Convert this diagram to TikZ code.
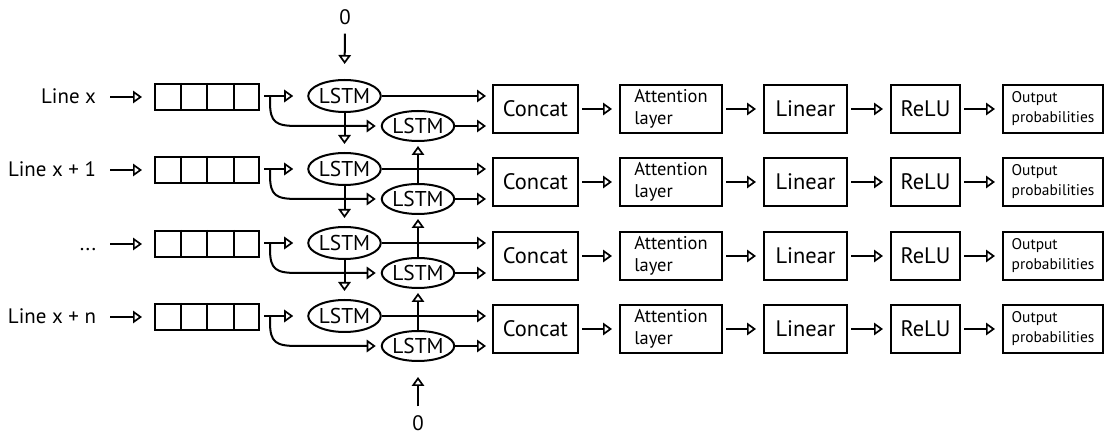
\documentclass[tikz,border=0pt]{standalone}
\usepackage{fontspec}
\setmainfont{PT Sans}
\usetikzlibrary{arrows.meta,shapes.geometric,calc}

\begin{document}
\begin{tikzpicture}[x=1bp,y=-1bp,line width=2bp,
  arr/.style={-{Triangle[open,length=9bp,width=12.5bp,line width=1.7bp]}},
  big/.style={font=\fontsize{22.5}{26}\selectfont},
  lbl/.style={font=\fontsize{21}{24}\selectfont,inner sep=0pt},
  box/.style={draw,rectangle,inner sep=0pt,minimum height=48bp,big},
  lstm/.style={draw,ellipse,inner sep=0pt,minimum width=72bp,font=\fontsize{21.5}{24}\selectfont},
  arraybox/.style={draw,rectangle,inner sep=0pt,minimum width=104bp,minimum height=26bp},
  twoline/.style={box,align=left},
  zero/.style={lbl}
]
\useasboundingbox (0,0) rectangle (1105,434);

\foreach \i/\dy/\lab in {0/0/{Line x},1/73/{Line x + 1},2/147/{...},3/220/{Line x + n}} {
  % input label and its arrow into the sequence buffer
  \node[lbl,anchor=base east] (L\i) at (97,104+\dy) {\lab};
  \coordinate (s\i) at (110,97+\dy);
  \node[arraybox] (A\i) at (207,97+\dy) {};
  \foreach \k in {0.25,0.5,0.75}
    \draw ($(A\i.north west)!\k!(A\i.north east)$) -- ($(A\i.south west)!\k!(A\i.south east)$);
  \draw[arr,shorten >=12bp] (s\i) -- (A\i.west);

  % forward and backward LSTM cells
  \node[lstm,minimum height=32bp] (F\i) at (344.5,96+\dy) {LSTM};
  \node[lstm,minimum height=30bp] (B\i) at (418,126+\dy) {LSTM};

  % processing chain
  \node[box,minimum width=85bp] (C\i) at (535.5,109+\dy) {Concat};
  \node[twoline,minimum width=102bp,font=\fontsize{18.5}{22}\selectfont] (T\i) at (671,109+\dy) {Attention\\layer};
  \node[box,minimum width=83bp] (N\i) at (805.5,109+\dy) {Linear};
  \node[box,minimum width=69bp] (R\i) at (925.5,109+\dy) {ReLU};
  \node[twoline,minimum width=100bp,font=\fontsize{15.5}{20}\selectfont] (O\i) at (1053,109+\dy) {Output\\probabilities};

  % buffer feeds both LSTMs
  \draw[arr,shorten <=4bp,shorten >=14bp] (A\i.east |- F\i.west) -- (F\i.west);
  \coordinate (fk\i) at ($(A\i.east |- F\i.west)+(10,0)$);
  \draw[arr,shorten >=5bp] (fk\i) -- ($(fk\i)+(0,6)$)
    .. controls ($(fk\i)+(0,27)$) and ($(fk\i)+(6,30)$) .. ($(fk\i)+(28,30)$) -- (B\i.west);

  % LSTM outputs into Concat
  \draw[arr,shorten >=6bp] (F\i.east) -- (F\i.east -| C\i.west);
  \draw[arr,shorten >=6bp] (B\i.east) -- (B\i.east -| C\i.west);

  \draw[arr,shorten <=3bp,shorten >=7bp] (C\i.east) -- (T\i.west);
  \draw[arr,shorten <=3bp,shorten >=7bp] (T\i.east) -- (N\i.west);
  \draw[arr,shorten <=3bp,shorten >=7bp] (N\i.east) -- (R\i.west);
  \draw[arr,shorten <=3bp,shorten >=7bp] (R\i.east) -- (O\i.west);
}

% recurrent connections between rows
\foreach \i/\j in {0/1,1/2,2/3} {
  \draw[arr,shorten >=8bp] (F\i.south) -- (F\j.north);
  \draw[arr,shorten >=4bp] (B\j.north) -- (B\i.south);
}

% initial states
\node[zero] (Z0) at (345,17) {0};
\draw[arr,shorten <=8bp,shorten >=15bp] (Z0.south) -- (F0.north);
\node[zero] (Z1) at (418,423) {0};
\draw[arr,shorten <=8bp,shorten >=15bp] (Z1.north) -- (B3.south);
\end{tikzpicture}
\end{document}
